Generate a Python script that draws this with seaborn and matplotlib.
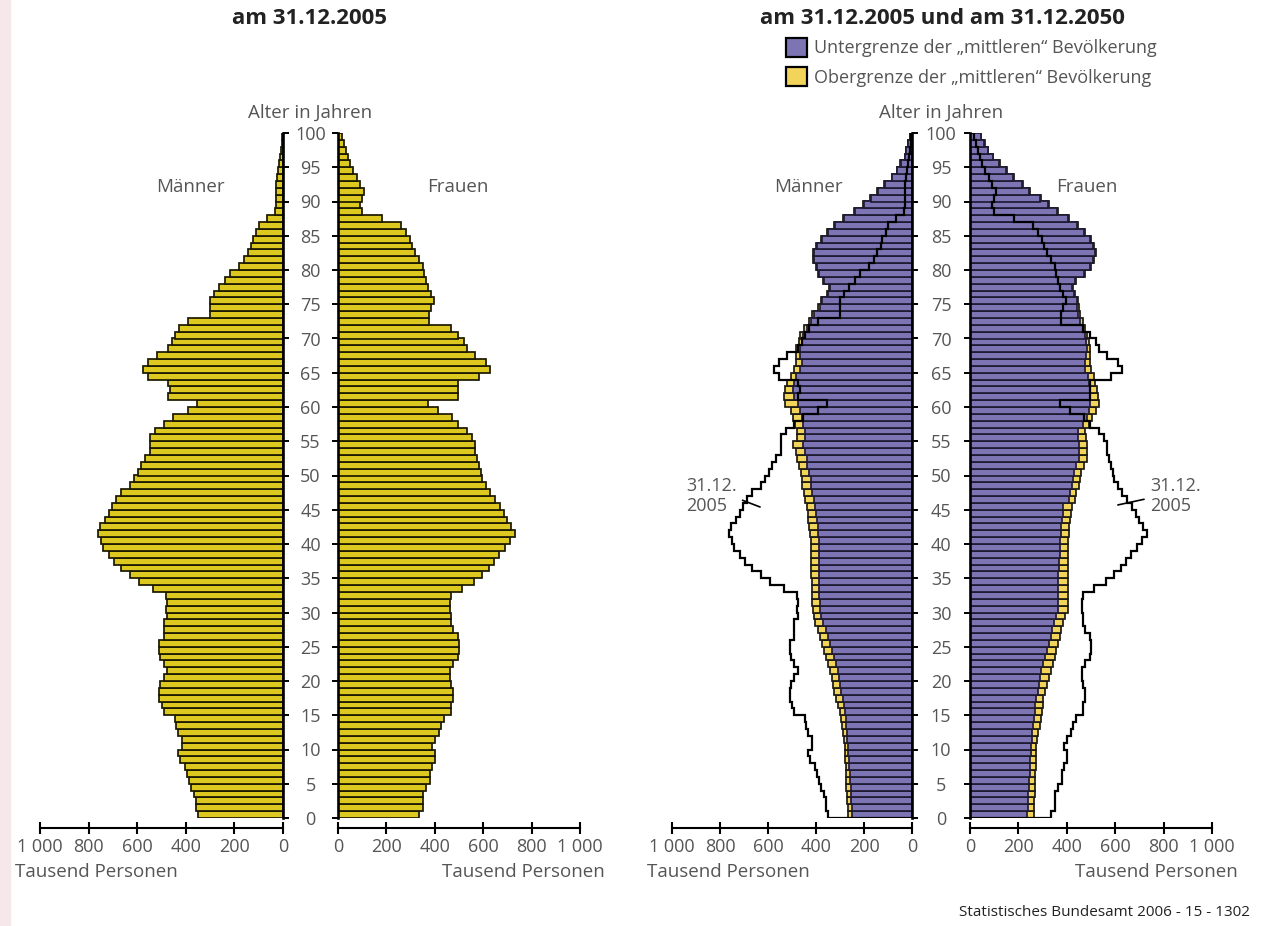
import numpy as np
import pandas as pd
import seaborn as sns
import matplotlib.pyplot as plt
from matplotlib.patches import Patch, Rectangle

# Bevoelkerung in Tausend, Alter 0..99
ages = np.arange(100)

male_2005 = [350, 358, 358, 366, 379, 387, 395, 403, 424, 432,
             416, 416, 432, 440, 444, 490, 498, 510, 510, 506,
             490, 477, 490, 506, 510, 510, 490, 490, 490, 477,
             481, 477, 481, 535, 593, 630, 667, 695, 716, 740,
             750, 761, 753, 733, 716, 703, 687, 667, 630, 613,
             597, 584, 568, 547, 547, 547, 527, 490, 453, 391,
             354, 473, 465, 473, 556, 576, 556, 519, 473, 457,
             444, 428, 391, 300, 300, 300, 284, 263, 239, 218,
             181, 160, 144, 130, 123, 110, 100, 66, 33, 30,
             28, 30, 30, 25, 22, 18, 12, 8, 5, 3]

female_2005 = [333, 350, 350, 350, 362, 379, 379, 387, 399, 399,
               387, 399, 416, 424, 436, 469, 469, 477, 477, 469,
               461, 461, 477, 494, 498, 498, 494, 477, 469, 469,
               461, 461, 469, 514, 563, 596, 625, 646, 667, 691,
               712, 732, 716, 700, 687, 671, 650, 628, 613, 597,
               592, 584, 576, 568, 568, 555, 531, 494, 473, 415,
               370, 494, 494, 494, 584, 628, 613, 568, 531, 519,
               494, 465, 378, 378, 383, 395, 386, 371, 364, 357,
               350, 335, 320, 305, 297, 283, 261, 181, 100, 92,
               99, 107, 92, 78, 62, 49, 41, 33, 25, 16]

# 2050: Untergrenze / Obergrenze der "mittleren" Bevoelkerung
male_2050_low = [250, 252, 254, 255, 256, 258, 260, 262, 264, 266,
                 267, 269, 271, 274, 276, 279, 283, 288, 294, 299,
                 304, 309, 317, 325, 334, 342, 350, 358, 371, 378,
                 383, 385, 386, 386, 387, 387, 388, 388, 388, 388,
                 388, 390, 392, 395, 398, 404, 408, 417, 421, 421,
                 429, 437, 437, 446, 454, 446, 446, 454, 458, 467,
                 475, 492, 496, 492, 483, 467, 458, 467, 467, 458,
                 454, 437, 421, 408, 383, 375, 350, 342, 367, 388,
                 396, 408, 408, 396, 375, 350, 321, 283, 237, 200,
                 171, 142, 112, 83, 62, 46, 29, 25, 17, 8]

male_2050_high = [267, 268, 270, 272, 273, 275, 276, 277, 278, 279,
                  280, 283, 287, 292, 296, 300, 307, 318, 324, 330,
                  335, 341, 352, 360, 368, 376, 384, 393, 404, 409,
                  413, 415, 416, 417, 418, 419, 420, 420, 421, 421,
                  421, 423, 428, 432, 435, 438, 445, 452, 458, 460,
                  464, 471, 478, 484, 494, 478, 478, 486, 495, 506,
                  529, 533, 529, 521, 504, 492, 485, 483, 483, 470,
                  467, 450, 430, 415, 390, 380, 355, 347, 372, 392,
                  400, 412, 412, 400, 379, 354, 325, 287, 241, 204,
                  174, 145, 115, 85, 64, 48, 31, 26, 18, 9]

female_2050_low = [236, 238, 239, 241, 242, 244, 246, 248, 249, 251,
                   252, 255, 258, 262, 265, 268, 270, 273, 280, 285,
                   289, 295, 302, 310, 318, 326, 333, 340, 347, 355,
                   364, 364, 364, 364, 364, 364, 366, 368, 370, 372,
                   372, 374, 376, 380, 383, 385, 409, 415, 421, 425,
                   430, 440, 450, 450, 450, 446, 446, 465, 483, 490,
                   496, 496, 496, 492, 488, 475, 475, 480, 483, 480,
                   475, 465, 455, 448, 442, 442, 429, 421, 434, 471,
                   496, 508, 517, 508, 496, 471, 442, 405, 360, 322,
                   289, 244, 215, 178, 149, 120, 95, 74, 58, 45]

female_2050_high = [264, 265, 266, 267, 268, 268, 270, 271, 272, 273,
                    273, 277, 282, 288, 293, 298, 300, 302, 310, 318,
                    326, 333, 343, 350, 357, 364, 370, 376, 384, 392,
                    405, 405, 405, 405, 405, 405, 405, 405, 405, 405,
                    405, 408, 410, 413, 417, 421, 432, 440, 450, 455,
                    459, 470, 485, 485, 483, 480, 475, 490, 504, 520,
                    533, 530, 525, 518, 512, 500, 495, 496, 496, 490,
                    482, 474, 465, 456, 449, 446, 433, 425, 438, 475,
                    500, 512, 521, 512, 500, 475, 446, 409, 364, 326,
                    292, 247, 218, 181, 151, 122, 97, 76, 60, 46]

age_ticks = list(range(0, 101, 5))
x_ticks = [0, 200, 400, 600, 800, 1000]
x_labels = ["0", "200", "400", "600", "800", "1 000"]

YELLOW_05 = "#dcc81e"
PURPLE = "#7d75b3"
YELLOW_50 = "#f3d45a"
GRAY = "#555555"

sns.set_style("ticks")
plt.rcParams['font.family'] = ['Open Sans', 'DejaVu Sans']

W, H = 1261, 926
fig = plt.figure(figsize=(W / 100, H / 100), dpi=100)
fig.patches.append(Rectangle((0, 0), 10 / W, 1, transform=fig.transFigure,
                             color="#f6e7eb", zorder=-5))


def px_axes(x0, x1, y0=818, y1=133):
    return fig.add_axes([x0 / W, (H - y0) / H, (x1 - x0) / W, (y0 - y1) / H])


def draw_bars(ax, vals, color, edge):
    df = pd.DataFrame({"alter": ages + 0.5, "anzahl": vals})
    sns.barplot(data=df, x="anzahl", y="alter", orient="y", native_scale=True,
                width=1, color=color, saturation=1, edgecolor=edge,
                linewidth=1.25, errorbar=None, ax=ax)


def style_half(ax, male, age_pad):
    ax.set_ylim(0, 100)
    ax.set_xlim((1000, 0) if male else (0, 1000))
    ax.set_xlabel("")
    ax.set_ylabel("")
    ax.set_facecolor("none")
    inner, outer = ("right", "left") if male else ("left", "right")
    ax.spines["top"].set_visible(False)
    ax.spines[outer].set_visible(False)
    ax.spines[inner].set_visible(True)
    ax.spines[inner].set_linewidth(1.9)
    ax.spines[inner].set_color("black")
    ax.spines[inner].set_bounds(0, 100)
    ax.spines["bottom"].set_position(("outward", 7))
    ax.spines["bottom"].set_linewidth(1.5)
    ax.spines["bottom"].set_color("black")
    ax.set_xticks(x_ticks, x_labels)
    ax.tick_params(axis="x", bottom=True, direction="inout", length=9, width=1.5,
                   color="black", labelsize=13, labelcolor=GRAY, pad=3)
    if male:
        ax.yaxis.tick_right()
        ax.set_yticks(age_ticks, [str(a) for a in age_ticks], ha="center")
        ax.tick_params(axis="y", right=True, left=False, direction="out",
                       length=4.3, width=1.4, color="black", labelsize=13,
                       labelcolor=GRAY, pad=age_pad)
    else:
        ax.yaxis.tick_left()
        ax.set_yticks(age_ticks, [])
        ax.tick_params(axis="y", left=True, right=False, direction="out",
                       length=4.3, width=1.4, color="black")


# linke Pyramide: 31.12.2005
ax_m1 = px_axes(40, 283)
ax_f1 = px_axes(338, 580)
draw_bars(ax_m1, male_2005, YELLOW_05, "#1a1800")
draw_bars(ax_f1, female_2005, YELLOW_05, "#1a1800")
style_half(ax_m1, True, 15.5)
style_half(ax_f1, False, 0)

# rechte Pyramide: 2050 mit Umriss 2005
ax_m2 = px_axes(672, 912)
ax_f2 = px_axes(970, 1212)
edges = np.arange(101)
for ax, hi, lo, old in [(ax_m2, male_2050_high, male_2050_low, male_2005),
                        (ax_f2, female_2050_high, female_2050_low, female_2005)]:
    draw_bars(ax, hi, YELLOW_50, "#1c1a10")
    draw_bars(ax, lo, PURPLE, "#1e1a33")
    ax.stairs(old, edges, orientation="horizontal", baseline=0,
              color="black", linewidth=1.6, zorder=5)
style_half(ax_m2, True, 16.6)
style_half(ax_f2, False, 0)

ax_m2.annotate("31.12.\n2005", xy=(633, 45.4), xytext=(942, 47.0),
               ha="left", va="center", fontsize=13, color=GRAY,
               arrowprops=dict(arrowstyle="-", color="black", lw=1.2,
                               relpos=(1, 0.45), shrinkA=2, shrinkB=0))
ax_f2.annotate("31.12.\n2005", xy=(611, 45.7), xytext=(744, 47.0),
               ha="left", va="center", fontsize=13, color=GRAY,
               arrowprops=dict(arrowstyle="-", color="black", lw=1.2,
                               relpos=(0, 0.45), shrinkA=2, shrinkB=0))


def ftext(x, y, s, **kw):
    kw.setdefault("fontsize", 13.5)
    kw.setdefault("color", GRAY)
    kw.setdefault("ha", "center")
    kw.setdefault("va", "center")
    fig.text(x / W, 1 - y / H, s, **kw)


ftext(310, 18, "am 31.12.2005", fontsize=16, fontweight="bold", color="#222222")
ftext(942, 18, "am 31.12.2005 und am 31.12.2050", fontsize=16,
      fontweight="bold", color="#222222")
for cx in (310, 941):
    ftext(cx, 113, "Alter in Jahren")
ftext(190, 187, "Männer")
ftext(458, 187, "Frauen")
ftext(808, 187, "Männer")
ftext(1087, 187, "Frauen")
ftext(15, 872, "Tausend Personen", ha="left")
ftext(605, 872, "Tausend Personen", ha="right")
ftext(647, 872, "Tausend Personen", ha="left")
ftext(1238, 872, "Tausend Personen", ha="right")
ftext(1250, 913, "Statistisches Bundesamt 2006 - 15 - 1302",
      ha="right", fontsize=11, color="#222222")

handles = [Patch(facecolor=PURPLE, edgecolor="black", linewidth=1.6,
                 label="Untergrenze der \u201emittleren\u201c Bevölkerung"),
           Patch(facecolor=YELLOW_50, edgecolor="black", linewidth=1.6,
                 label="Obergrenze der \u201emittleren\u201c Bevölkerung")]
leg = fig.legend(handles=handles, loc="upper left",
                 bbox_to_anchor=(786 / W, 1 - 38 / H), frameon=False,
                 fontsize=13, handlelength=1.15, handleheight=1.2,
                 handletextpad=0.4, labelspacing=0.55, borderpad=0,
                 borderaxespad=0)
for t in leg.get_texts():
    t.set_color(GRAY)

fig.savefig("out.png", dpi=100)
